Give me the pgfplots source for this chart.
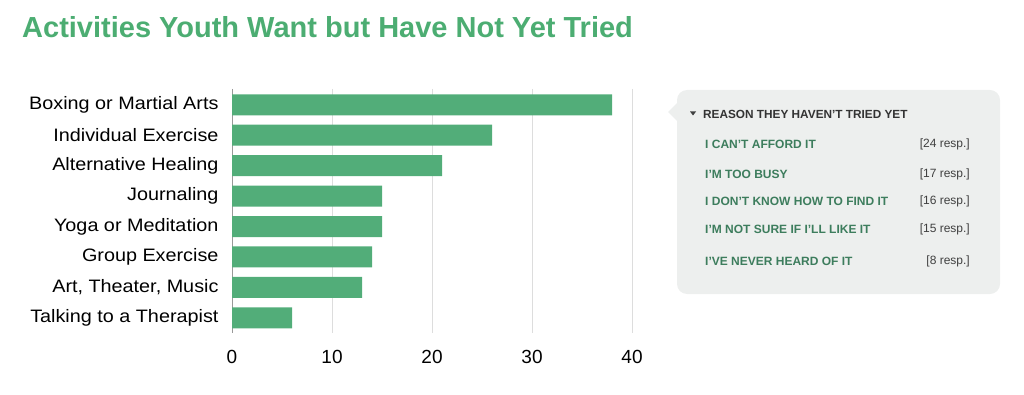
\documentclass[border=0pt]{standalone}
\usepackage{pgfplots}
\pgfplotsset{compat=1.18}
\usepackage{fontspec}
\setmainfont{Liberation Sans}
\definecolor{bargreen}{HTML}{52AD79}
\definecolor{titlegreen}{HTML}{4CAD72}
\definecolor{itemgreen}{HTML}{3D7D5D}
\definecolor{boxgray}{HTML}{EDEFEE}
\definecolor{gridgray}{HTML}{DDDDDD}
\newcommand{\sx}[1]{\scalebox{1.1}[1]{#1}}
\begin{document}
\begin{tikzpicture}[x=1pt,y=1pt]
\path[use as bounding box] (0,0) rectangle (1024,394);
% title
\node[anchor=west, text=titlegreen, font=\fontsize{29}{32}\selectfont\bfseries, inner sep=0pt] at (22,367) {Activities Youth Want but Have Not Yet Tried};
\begin{axis}[
  at={(232pt,61pt)}, anchor=south west,
  scale only axis, width=400pt, height=244pt,
  xmin=0, xmax=40, ymin=-0.52, ymax=7.5,
  y dir=reverse,
  axis line style={draw=none},
  major tick length=0pt,
  xtick={10,20,30,40},
  extra x ticks={0},
  extra x tick style={grid style={draw=gray!80, line width=0.8pt}},
  xmajorgrids, grid style={draw=gridgray, line width=0.8pt},
  ytick={0,1,2,3,4,5,6,7},
  yticklabels={\sx{Boxing or Martial Arts}, \sx{Individual Exercise}, \sx{Alternative Healing}, \sx{Journaling}, \sx{Yoga or Meditation}, \sx{Group Exercise}, {\sx{Art, Theater, Music}}, \sx{Talking to a Therapist}},
  yticklabel style={font=\fontsize{18}{20}\selectfont, xshift=-10pt},
  xticklabel style={font=\fontsize{19}{21}\selectfont, yshift=-14pt},
  /pgf/number format/assume math mode=true,
]
\addplot[xbar, bar width=21pt, fill=bargreen, draw=none] coordinates {
 (38,0) (26,1) (21,2) (15,3) (15,4) (14,5) (13,6) (6,7)
};
\end{axis}
% legend box
\fill[boxgray, rounded corners=10pt] (677,100) rectangle (1000,304);
\fill[boxgray] (678,292) -- (668,282) -- (678,272) -- cycle;
\fill[black!75] (690,282.5) -- (696,282.5) -- (693,278.5) -- cycle;
\node[anchor=west, font=\fontsize{11.8}{13}\selectfont\bfseries, text=black!80, inner sep=0pt] at (703,280) {REASON THEY HAVEN'T TRIED YET};
\foreach \t/\v/\y in {I CAN'T AFFORD IT/{[24 resp.]}/250, I'M TOO BUSY/{[17 resp.]}/220, I DON'T KNOW HOW TO FIND IT/{[16 resp.]}/193, I'M NOT SURE IF I'LL LIKE IT/{[15 resp.]}/165, I'VE NEVER HEARD OF IT/{[8 resp.]}/133} {
  \node[anchor=west, font=\fontsize{12}{13}\selectfont\bfseries, text=itemgreen, inner sep=0pt] at (705,\y) {\t};
  \node[anchor=east, font=\fontsize{12}{13}\selectfont, text=black!75, inner sep=0pt] at (970,\y) {\v};
}
\end{tikzpicture}
\end{document}
